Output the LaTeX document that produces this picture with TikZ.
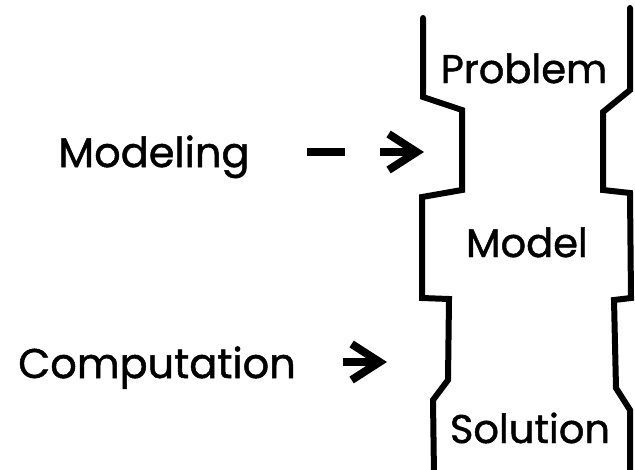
\documentclass[tikz,border=0pt]{standalone}
\usepackage{fontspec}
\setmainfont{Poppins}[FakeBold=1.2]
\usetikzlibrary{arrows.meta}
\begin{document}
\begin{tikzpicture}
    [
    x=1pt, y=-1pt,
    wall/.style={line width=6pt, line cap=round, line join=miter},
    stage/.style={inner sep=0pt, anchor=base, font=\fontsize{40}{44}\selectfont},
    step label/.style={inner sep=0pt, anchor=base, font=\fontsize{41.5}{45}\selectfont},
    move/.style={line width=8pt, -{Straight Barb[length=28pt,width=36pt]}}
    ]
    \useasboundingbox (0,0) rectangle (635,469);
    \draw [wall] (423,18) -- (423,97) -- (462,110) -- (462,190) -- (422,197)
        -- (422,298) -- (449,299) -- (448,380) -- (433,400) -- (434,475);
    \draw [wall] (630,8) -- (630,90) -- (603,112) -- (603,190) -- (630,193)
        -- (631,298) -- (614,300) -- (616,388) -- (630,410) -- (630,475);
    \node (problem) at (524,83) [stage] {Problem};
    \node (model) at (527,257) [stage] {Model};
    \node (solution) at (530,443) [stage] {Solution};
    \node (modeling) at (154,167) [step label] {Modeling};
    \node (computation) at (157,378) [step label] {Computation};
    \coordinate (mod start) at (307,152);
    \coordinate (mod end) at (424,152);
    \coordinate (comp start) at (343,362);
    \coordinate (comp end) at (387,362);
    \draw [move, dash pattern=on 38pt off 35pt on 200pt] (mod start) to (mod end);
    \draw [move] (comp start) to (comp end);
  \end{tikzpicture}
\end{document}
